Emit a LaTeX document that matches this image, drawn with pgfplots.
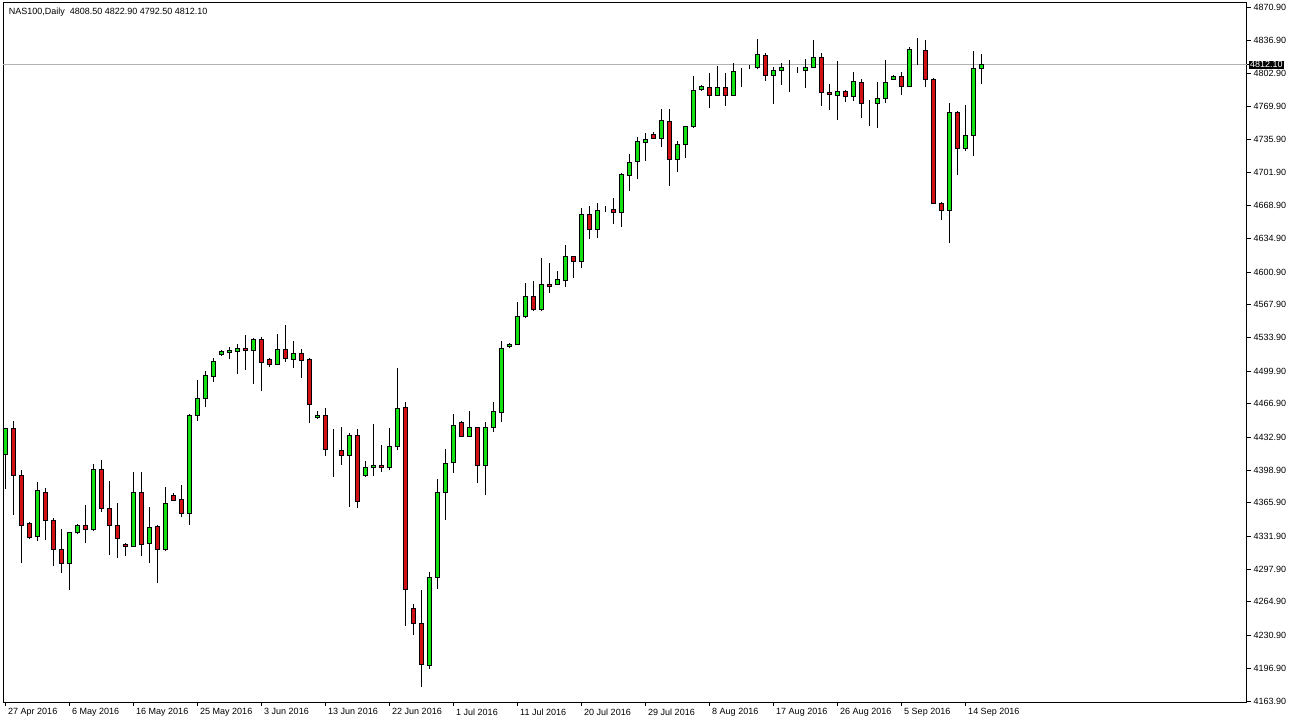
\documentclass[border=0pt]{standalone}
\usepackage{pgfplots}
\usepackage{pgfplotstable}
\usepackage{fontspec}
\setmainfont{Liberation Sans}
\pgfplotsset{compat=1.18}
\definecolor{bull}{RGB}{20,225,20}
\definecolor{bear}{RGB}{210,15,20}
\pgfplotstableread{
i O H L C
0 4415.5 4441.7 4379.6 4441.7
1 4441.7 4448.9 4353.7 4393.8
2 4393.8 4398.9 4304.2 4342.9
3 4344.9 4346.0 4328.6 4330.7
4 4331.0 4387.0 4326.6 4377.9
5 4376.5 4380.6 4327.6 4347.6
6 4348.0 4350.0 4301.1 4318.5
7 4318.5 4338.8 4294.0 4304.2
8 4304.2 4335.8 4277.0 4335.1
9 4335.8 4344.2 4333.7 4342.9
10 4342.9 4363.3 4324.6 4338.8
11 4338.8 4405.4 4336.8 4400.0
12 4400.0 4409.4 4356.2 4360.2
13 4360.2 4388.0 4312.4 4342.9
14 4342.9 4365.3 4309.3 4329.7
15 4323.6 4325.2 4311.3 4321.5
16 4321.8 4397.2 4320.8 4376.8
17 4376.8 4397.2 4311.3 4323.6
18 4324.6 4361.2 4304.2 4340.9
19 4341.9 4342.9 4283.8 4318.5
20 4318.1 4381.6 4317.0 4365.3
21 4373.5 4375.5 4367.4 4368.4
22 4368.7 4383.7 4351.1 4355.1
23 4355.1 4456.3 4343.5 4454.3
24 4454.3 4490.9 4449.5 4472.3
25 4472.3 4500.1 4463.7 4495.0
26 4494.7 4513.0 4489.2 4510.0
27 4517.1 4521.5 4515.4 4519.5
28 4518.7 4524.2 4512.0 4520.5
29 4520.2 4527.6 4496.7 4523.2
30 4523.2 4537.1 4501.1 4520.8
31 4521.2 4533.4 4486.5 4531.7
32 4531.7 4534.4 4479.4 4509.0
33 4511.3 4513.6 4504.5 4506.9
34 4506.9 4537.8 4506.2 4522.2
35 4522.2 4546.7 4509.3 4512.6
36 4512.0 4530.4 4503.5 4518.1
37 4518.1 4522.2 4493.0 4511.0
38 4511.3 4513.6 4446.8 4465.8
39 4452.5 4459.3 4451.5 4455.0
40 4455.0 4462.1 4413.8 4420.3
41 4419.1 4441.0 4392.4 4419.1
42 4419.6 4443.1 4404.6 4413.8
43 4413.8 4436.5 4361.9 4434.6
44 4434.6 4440.7 4360.8 4367.0
45 4393.4 4408.4 4392.4 4402.0
46 4402.0 4446.1 4393.4 4404.0
47 4404.0 4424.7 4396.9 4402.0
48 4401.6 4441.7 4399.2 4423.4
49 4423.4 4503.2 4419.3 4462.1
50 4463.1 4468.2 4240.6 4277.7
51 4258.4 4262.4 4230.9 4243.1
52 4243.1 4277.0 4178.5 4201.3
53 4200.3 4295.3 4196.8 4289.9
54 4289.9 4389.8 4278.0 4376.5
55 4376.5 4420.9 4348.6 4406.1
56 4407.1 4456.6 4396.5 4444.1
57 4447.8 4449.2 4433.2 4433.6
58 4433.6 4459.7 4433.2 4442.7
59 4442.7 4443.4 4385.7 4404.0
60 4404.0 4448.1 4373.5 4442.7
61 4442.7 4468.5 4437.6 4458.8
62 4458.0 4530.7 4447.8 4523.2
63 4525.3 4528.3 4523.2 4527.3
64 4527.3 4570.4 4526.5 4555.8
65 4555.8 4590.0 4553.8 4576.2
66 4576.2 4591.5 4560.9 4563.0
67 4563.0 4615.2 4560.9 4588.4
68 4588.4 4609.8 4579.3 4586.4
69 4588.4 4601.7 4587.7 4593.5
70 4592.1 4628.5 4586.0 4616.9
71 4616.9 4617.5 4595.1 4611.4
72 4611.8 4666.1 4604.7 4660.0
73 4660.0 4668.2 4634.3 4644.4
74 4644.4 4670.9 4635.3 4663.8
75 4665.1 4668.2 4662.4 4665.1
76 4664.8 4676.6 4649.8 4661.8
77 4661.8 4701.5 4647.1 4700.5
78 4699.5 4721.2 4683.8 4712.7
79 4713.0 4738.2 4695.4 4733.4
80 4733.1 4742.2 4714.3 4736.1
81 4741.2 4743.9 4736.1 4737.1
82 4737.1 4766.7 4728.0 4755.5
83 4754.5 4766.7 4688.9 4715.8
84 4715.8 4734.1 4703.1 4731.0
85 4731.0 4750.0 4717.4 4749.4
86 4749.0 4800.6 4747.9 4786.0
87 4787.1 4791.0 4785.6 4790.4
88 4788.7 4803.4 4768.3 4781.0
89 4781.0 4810.8 4780.5 4788.7
90 4788.7 4803.4 4770.4 4781.0
91 4781.0 4813.6 4780.2 4805.4
92 4807.4 4808.5 4789.7 4807.4
93 4809.3 4811.3 4807.4 4809.3
94 4809.5 4838.3 4807.4 4822.7
95 4821.7 4823.7 4795.8 4801.3
96 4801.3 4809.5 4771.8 4806.4
97 4806.4 4813.6 4791.8 4809.5
98 4808.0 4816.6 4784.6 4808.0
99 4806.4 4809.5 4803.4 4806.4
100 4806.4 4817.6 4788.7 4809.5
101 4809.5 4837.0 4808.5 4819.7
102 4819.7 4823.7 4770.4 4784.0
103 4784.0 4792.5 4766.3 4782.0
104 4781.0 4815.6 4756.1 4785.0
105 4785.0 4786.0 4773.8 4779.9
106 4779.9 4804.4 4774.8 4795.2
107 4794.2 4797.3 4758.1 4772.8
108 4772.8 4775.9 4750.0 4772.8
109 4772.8 4794.2 4747.9 4777.9
110 4777.9 4816.6 4772.8 4794.2
111 4797.3 4801.3 4796.2 4800.3
112 4800.3 4804.4 4781.0 4790.1
113 4789.7 4829.9 4789.1 4827.8
114 4827.1 4839.0 4812.1 4827.1
115 4826.8 4837.3 4789.1 4797.3
116 4797.3 4798.3 4670.9 4670.9
117 4670.9 4672.3 4653.9 4663.8
118 4663.8 4772.8 4630.2 4763.6
119 4763.6 4764.7 4699.8 4727.0
120 4727.0 4770.8 4724.5 4740.2
121 4740.2 4826.1 4719.4 4808.5
122 4808.5 4822.9 4792.5 4812.1
}\ohlc
\pgfplotsset{
  candleframe/.style={
    at={(0pt,0pt)}, anchor=south west, scale only axis,
    width=1244pt, height=699pt,
    xmin=-0.3375, xmax=155.16, ymin=4162.9, ymax=4874.97,
    enlargelimits=false,
  }
}
\begin{document}
\begin{tikzpicture}
\path[use as bounding box] (-3pt,-24pt) rectangle (1288pt,702pt);
\begin{axis}[
  candleframe,
  axis line style={black, line width=1pt},
  font=\fontsize{9}{10}\selectfont,
  /pgf/number format/assume math mode=true,
  /pgf/number format/fixed,
  /pgf/number format/fixed zerofill,
  /pgf/number format/precision=2,
  /pgf/number format/1000 sep={},
  scaled y ticks=false,
  xtick pos=bottom, ytick pos=right, yticklabel pos=right,
  tick align=outside, major tick length=4pt,
  tick style={black, line width=0.8pt},
  xtick={0,8,16,24,32,40,48,56,64,72,80,88,96,104,112,120},
  xticklabels={27 Apr 2016,6 May 2016,16 May 2016,25 May 2016,3 Jun 2016,13 Jun 2016,22 Jun 2016,1 Jul 2016,11 Jul 2016,20 Jul 2016,29 Jul 2016,8 Aug 2016,17 Aug 2016,26 Aug 2016,5 Sep 2016,14 Sep 2016},
  xticklabel style={anchor=north west, xshift=-1pt, yshift=1pt},
  ytick={4163.9,4196.9,4230.9,4264.9,4297.9,4331.9,4365.9,4398.9,4432.9,4466.9,4499.9,4533.9,4567.9,4600.9,4634.9,4668.9,4701.9,4735.9,4769.9,4802.9,4836.9,4870.9},
  yticklabel style={anchor=west, xshift=-1pt},
  extra y ticks={4812.1},
  extra y tick style={grid=major, major grid style={draw=black!30, line width=0.8pt},
    yticklabel style={fill=black, text=white, inner sep=1pt, xshift=-1pt}},
]
\addplot[draw=none, mark=none,
  error bars/.cd, y dir=plus, y explicit, error mark=none,
  error bar style={draw=black, line width=1pt}]
  table[x=i, y=L, y error expr=\thisrow{H}-\thisrow{L}] {\ohlc};
\node[anchor=west, font=\fontsize{9}{10}\selectfont, inner sep=0pt] at (axis description cs:0.0045,0.987)
  {NAS100,Daily~~4808.50 4822.90 4792.50 4812.10};
\end{axis}
\begin{axis}[
  candleframe, hide axis,
  ybar stacked, bar width=4pt,
]
\addplot[draw=none, fill=none] table[x=i, y expr={min(\thisrow{O},\thisrow{C})}] {\ohlc};
\addplot[draw=black, line width=1pt, fill=bull] table[x=i, y expr={max(\thisrow{C}-\thisrow{O},0)}] {\ohlc};
\addplot[draw=black, line width=1pt, fill=bear] table[x=i, y expr={max(\thisrow{O}-\thisrow{C},0)}] {\ohlc};
\end{axis}
\end{tikzpicture}
\end{document}
